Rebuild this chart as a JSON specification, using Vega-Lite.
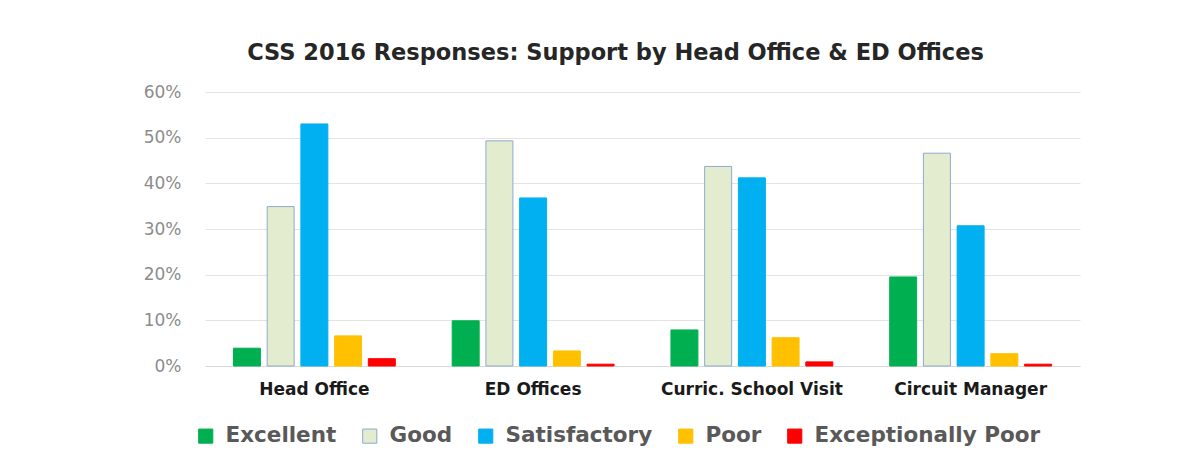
{
  "$schema": "https://vega.github.io/schema/vega-lite/v6.json",
  "width": 875,
  "height": 274,
  "autosize": {"type": "none"},
  "padding": {"left": 205, "top": 92, "right": 115, "bottom": 102},
  "background": "white",
  "title": {
    "text": "CSS 2016 Responses: Support by Head Office & ED Offices",
    "anchor": "middle",
    "frame": "group",
    "dx": -27,
    "offset": 19,
    "fontSize": 22.5,
    "fontWeight": "bold",
    "font": "DejaVu Sans",
    "color": "#262626"
  },
  "data": {
    "values": [
      {"office": "Head Office", "rating": "Excellent", "value": 0.039},
      {"office": "Head Office", "rating": "Good", "value": 0.349},
      {"office": "Head Office", "rating": "Satisfactory", "value": 0.530},
      {"office": "Head Office", "rating": "Poor", "value": 0.066},
      {"office": "Head Office", "rating": "Exceptionally Poor", "value": 0.016},
      {"office": "ED Offices", "rating": "Excellent", "value": 0.099},
      {"office": "ED Offices", "rating": "Good", "value": 0.493},
      {"office": "ED Offices", "rating": "Satisfactory", "value": 0.368},
      {"office": "ED Offices", "rating": "Poor", "value": 0.033},
      {"office": "ED Offices", "rating": "Exceptionally Poor", "value": 0.004},
      {"office": "Curric. School Visit", "rating": "Excellent", "value": 0.079},
      {"office": "Curric. School Visit", "rating": "Good", "value": 0.437},
      {"office": "Curric. School Visit", "rating": "Satisfactory", "value": 0.412},
      {"office": "Curric. School Visit", "rating": "Poor", "value": 0.062},
      {"office": "Curric. School Visit", "rating": "Exceptionally Poor", "value": 0.009},
      {"office": "Circuit Manager", "rating": "Excellent", "value": 0.195},
      {"office": "Circuit Manager", "rating": "Good", "value": 0.466},
      {"office": "Circuit Manager", "rating": "Satisfactory", "value": 0.307},
      {"office": "Circuit Manager", "rating": "Poor", "value": 0.027},
      {"office": "Circuit Manager", "rating": "Exceptionally Poor", "value": 0.004}
    ]
  },
  "mark": {"type": "bar", "strokeWidth": 1},
  "encoding": {
    "x": {
      "field": "office",
      "type": "nominal",
      "sort": ["Head Office", "ED Offices", "Curric. School Visit", "Circuit Manager"],
      "scale": {"paddingInner": 0.26, "paddingOuter": 0.13},
      "axis": {
        "title": null,
        "labelAngle": 0,
        "labelFont": "DejaVu Sans",
        "labelFontSize": 17,
        "labelFontWeight": "bold",
        "labelColor": "#1a1a1a",
        "labelPadding": 15,
        "labelLimit": 0,
        "ticks": false,
        "domainColor": "#d9d9d9"
      }
    },
    "xOffset": {
      "field": "rating",
      "type": "nominal",
      "sort": ["Excellent", "Good", "Satisfactory", "Poor", "Exceptionally Poor"],
      "scale": {"paddingInner": 0.2}
    },
    "y": {
      "field": "value",
      "type": "quantitative",
      "scale": {"domain": [0, 0.6]},
      "axis": {
        "title": null,
        "format": ".0%",
        "values": [0, 0.1, 0.2, 0.3, 0.4, 0.5, 0.6],
        "labelFont": "DejaVu Sans",
        "labelFontSize": 17,
        "labelColor": "#8c8c8c",
        "labelPadding": 24,
        "ticks": false,
        "domain": false,
        "gridColor": "#e3e3e3"
      }
    },
    "fill": {
      "field": "rating",
      "type": "nominal",
      "sort": ["Excellent", "Good", "Satisfactory", "Poor", "Exceptionally Poor"],
      "scale": {
        "domain": ["Excellent", "Good", "Satisfactory", "Poor", "Exceptionally Poor"],
        "range": ["#00b050", "#e4ecd0", "#00b0f0", "#ffc000", "#ff0000"]
      },
      "legend": {
        "title": null,
        "orient": "none",
        "direction": "horizontal",
        "legendX": -10,
        "legendY": 333,
        "symbolType": "square",
        "symbolSize": 200,
        "symbolStrokeWidth": 1,
        "labelFont": "DejaVu Sans",
        "labelFontSize": 21.5,
        "labelFontWeight": "bold",
        "labelColor": "#595959",
        "labelLimit": 0,
        "columnPadding": 22,
        "labelOffset": 9
      }
    },
    "stroke": {
      "field": "rating",
      "type": "nominal",
      "sort": ["Excellent", "Good", "Satisfactory", "Poor", "Exceptionally Poor"],
      "scale": {
        "domain": ["Excellent", "Good", "Satisfactory", "Poor", "Exceptionally Poor"],
        "range": ["#00b050", "#8fa9cf", "#00b0f0", "#ffc000", "#ff0000"]
      },
      "legend": null
    }
  },
  "config": {
    "view": {"stroke": null}
  }
}
